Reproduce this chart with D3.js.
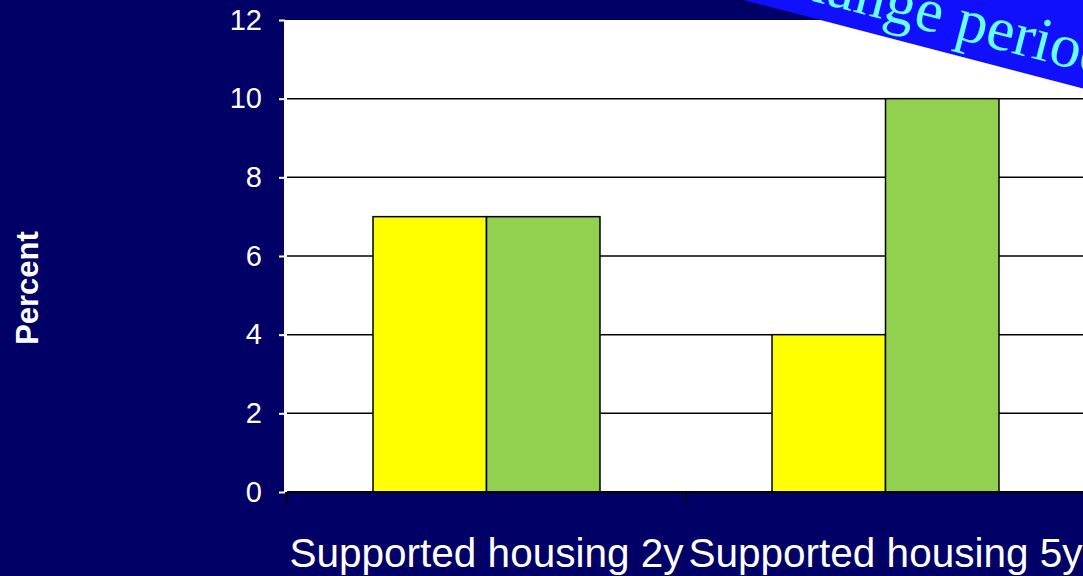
<!DOCTYPE html>
<html>
<head>
<meta charset="utf-8">
<script src="https://cdn.jsdelivr.net/npm/d3@7"></script>
<style>
  body { margin: 0; background: #000066; overflow: hidden; }
</style>
</head>
<body>
<div id="graph"></div>
<script>
var categories = ["Supported housing 2y", "Supported housing 5y"];
var series = ["series1", "series2"];
var values = [
  [7, 7],
  [4, 10]
];
var colors = ["#ffff00", "#92d050"];
var yTicks = [0, 2, 4, 6, 8, 10, 12];

var svg = d3.select("#graph").append("svg")
  .attr("width", 1083).attr("height", 576)

svg.append("rect")
  .attr("width", 1083).attr("height", 576)
  .attr("fill", "#000066")

var y = d3.scaleLinear().domain([0, 12]).range([492, 20]);
var x0 = d3.scaleBand().domain(categories).range([287, 1085]);
var x1 = d3.scaleBand().domain(series).range([0, x0.bandwidth()]).paddingOuter(0.758);

// plot area
svg.append("rect")
  .attr("x", 284).attr("y", y(12))
  .attr("width", 1083 - 284).attr("height", y(0) - y(12))
  .attr("fill", "white")

// gridlines
svg.selectAll("line.grid")
  .data(yTicks.filter(function(d){ return d > 0 && d < 12 }))
  .enter().append("line")
  .attr("class", "grid")
  .attr("x1", 287).attr("x2", 1085)
  .attr("y1", function(d){ return y(d) }).attr("y2", function(d){ return y(d) })
  .attr("stroke", "black").attr("stroke-width", 1.5)

// bars
var groups = svg.selectAll("g.cat")
  .data(values)
  .enter().append("g")
  .attr("class", "cat")
  .attr("transform", function(d, i){ return "translate(" + x0(categories[i]) + ",0)" })

groups.selectAll("rect")
  .data(function(d){ return d })
  .enter().append("rect")
  .attr("x", function(d, i){ return x1(series[i]) })
  .attr("y", function(d){ return y(d) })
  .attr("width", x1.bandwidth())
  .attr("height", function(d){ return y(0) - y(d) })
  .attr("fill", function(d, i){ return colors[i] })
  .attr("stroke", "black").attr("stroke-width", 1.5)

// x axis
svg.append("line")
  .attr("x1", 287).attr("x2", 1085)
  .attr("y1", y(0)).attr("y2", y(0))
  .attr("stroke", "black").attr("stroke-width", 2)

svg.selectAll("line.xtick")
  .data(categories)
  .enter().append("line")
  .attr("class", "xtick")
  .attr("x1", function(d){ return x0(d) }).attr("x2", function(d){ return x0(d) })
  .attr("y1", y(0)).attr("y2", y(0) + 12)
  .attr("stroke", "black").attr("stroke-width", 1.5)

svg.selectAll("text.xlab")
  .data(categories)
  .enter().append("text")
  .attr("class", "xlab")
  .attr("x", function(d){ return x0(d) + x0.bandwidth() / 2 })
  .attr("y", 567)
  .attr("text-anchor", "middle")
  .attr("fill", "white")
  .style("font-family", "Liberation Sans, Arial, sans-serif")
  .style("font-size", "40.5px")
  .text(function(d){ return d })

// y axis
var yAxis = svg.append("g")
  .attr("transform", "translate(285,0)")
  .call(d3.axisLeft(y).tickValues(yTicks).tickSize(6).tickPadding(17))

yAxis.select(".domain").remove()
yAxis.selectAll(".tick line").attr("stroke", "white").attr("stroke-width", 2)
yAxis.selectAll(".tick text")
  .attr("fill", "white")
  .style("font-family", "Liberation Sans, Arial, sans-serif")
  .style("font-size", "29px")

svg.append("text")
  .attr("transform", "translate(38,288) rotate(-90)")
  .attr("text-anchor", "middle")
  .attr("fill", "white")
  .style("font-family", "Liberation Sans, Arial, sans-serif")
  .style("font-weight", "bold")
  .style("font-size", "31px")
  .text("Percent")

// banner in the top right corner
var banner = svg.append("g")
  .attr("transform", "translate(755,-14) rotate(14.6)")

banner.append("rect")
  .attr("x", -300).attr("y", -150)
  .attr("width", 1200).attr("height", 166.5)
  .attr("fill", "#1010ff")

banner.append("text")
  .attr("x", 0).attr("y", 0)
  .attr("fill", "#66ffff")
  .style("font-family", "Liberation Serif, Times New Roman, serif")
  .style("font-size", "62px")
  .text("Change period")
</script>
</body>
</html>
